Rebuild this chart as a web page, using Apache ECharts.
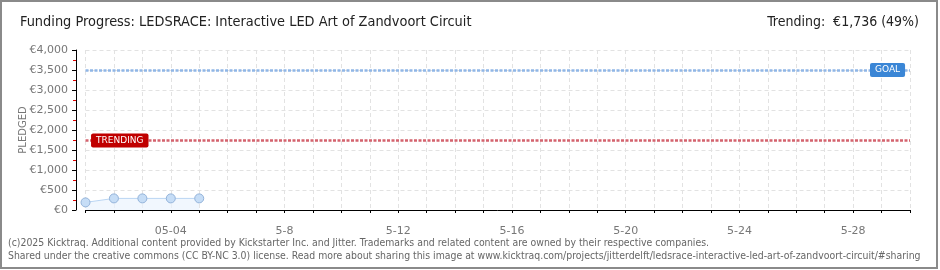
<!DOCTYPE html>
<html>
<head>
<meta charset="utf-8">
<script src="https://cdn.jsdelivr.net/npm/echarts@6/dist/echarts.min.js"></script>
<style>
  html, body { margin: 0; padding: 0; background: #fff; }
  #chart { width: 940px; height: 270px; }
</style>
</head>
<body>
<div id="chart"></div>
<script>
// days of the campaign shown on the x axis
var days = ['05-01', '05-02', '05-03', '05-04', '05-05', '05-06', '05-07', '05-08', '05-09', '05-10',
  '05-11', '05-12', '05-13', '05-14', '05-15', '05-16', '05-17', '05-18', '05-19', '05-20',
  '05-21', '05-22', '05-23', '05-24', '05-25', '05-26', '05-27', '05-28', '05-29', '05-30']
var tickLabels = ['', '', '', '05-04', '', '', '', '5-8', '', '',
  '', '5-12', '', '', '', '5-16', '', '', '', '5-20',
  '', '', '', '5-24', '', '', '', '5-28', '', '']
// pledged amount per day (EUR)
var pledged = [190, 290, 290, 290, 290]
var goal = 3500
var trending = 1736
var titleText = 'Funding Progress: LEDSRACE: Interactive LED Art of Zandvoort Circuit'
var trendText = 'Trending:  \u20ac1,736 (49%)'
var footer1 = '(c)2025 Kicktraq. Additional content provided by Kickstarter Inc. and Jitter. Trademarks and related content are owned by their respective companies.'
var footer2 = 'Shared under the creative commons (CC BY-NC 3.0) license. Read more about sharing this image at www.kicktraq.com/projects/jitterdelft/ledsrace-interactive-led-art-of-zandvoort-circuit/#sharing'

var chart = echarts.init(document.getElementById('chart'))

var narrow = '"Liberation Sans Narrow", "DejaVu Sans Condensed", sans-serif'

chart.setOption({
  animation: false,
  backgroundColor: '#fff',
  grid: {
    left: 85.5,
    right: 30,
    top: 50,
    bottom: 60
  },
  graphic: [
    {
      type: 'rect',
      shape: { x: 1, y: 1, width: 936, height: 267 },
      style: { fill: 'none', stroke: '#8a8a8a', lineWidth: 2 },
      silent: true
    },
    {
      type: 'text',
      left: 20,
      top: 15,
      style: { text: titleText, font: '14.4px ' + narrow, fill: '#222' }
    },
    {
      type: 'text',
      right: 21,
      top: 15,
      style: { text: trendText, font: '14px ' + narrow, fill: '#222' }
    },
    {
      type: 'text',
      left: 8,
      top: 238,
      style: { text: footer1, font: '10.4px ' + narrow, fill: '#666' }
    },
    {
      type: 'text',
      left: 8,
      top: 251,
      style: { text: footer2, font: '10.4px ' + narrow, fill: '#666' }
    }
  ],
  xAxis: {
    type: 'category',
    data: days,
    boundaryGap: false,
    offset: 10,
    axisLine: { lineStyle: { color: '#000', width: 1 } },
    axisTick: { show: true, interval: 0, length: 3, lineStyle: { color: '#000' } },
    axisLabel: {
      interval: 0,
      margin: 6,
      color: '#777',
      fontSize: 11,
      fontFamily: 'DejaVu Sans',
      formatter: function(v, i) {
        return tickLabels[i]
      }
    },
    splitLine: {
      show: true,
      interval: 0,
      lineStyle: { color: '#e2e2e2', type: [4, 3] }
    }
  },
  yAxis: {
    type: 'value',
    min: 0,
    max: 4000,
    interval: 500,
    offset: 9.5,
    name: 'PLEDGED',
    nameLocation: 'middle',
    nameGap: 48,
    nameMoveOverlap: false,
    nameTextStyle: { color: '#777', fontSize: 10, fontFamily: 'DejaVu Sans' },
    axisLine: { show: true, lineStyle: { color: '#000', width: 1 } },
    axisTick: { show: true, length: 4, lineStyle: { color: '#000' } },
    minorTick: { show: true, splitNumber: 2, length: 3, lineStyle: { color: '#e00000' } },
    axisLabel: {
      margin: 8,
      color: '#777',
      fontSize: 11,
      fontFamily: 'DejaVu Sans',
      formatter: function(v) {
        return '\u20ac' + v.toLocaleString('en-US')
      }
    },
    splitLine: {
      show: true,
      lineStyle: { color: '#e2e2e2', type: [4, 3] }
    }
  },
  series: [{
    name: 'Pledged',
    type: 'line',
    data: pledged,
    symbol: 'circle',
    symbolSize: 9,
    lineStyle: { color: '#b9d5f3', width: 1 },
    itemStyle: { color: '#c6ddf6', borderColor: '#93b3da', borderWidth: 1 },
    areaStyle: { color: '#ebf4fd' },
    markLine: {
      silent: true,
      symbol: 'none',
      data: [
        {
          yAxis: goal,
          lineStyle: { color: '#90b6e6', width: 2.5, type: [3, 1.5] },
          label: {
            position: 'end',
            distance: -40,
            formatter: 'GOAL',
            color: '#fff',
            fontSize: 9,
            fontFamily: 'DejaVu Sans',
            backgroundColor: '#3a86d6',
            borderRadius: 2,
            padding: [3, 5, 2, 5]
          }
        },
        {
          yAxis: trending,
          lineStyle: { color: '#d4636e', width: 2.5, type: [3, 1.5] },
          label: {
            position: 'start',
            distance: -63,
            formatter: 'TRENDING',
            color: '#fff',
            fontSize: 9,
            fontFamily: 'DejaVu Sans',
            backgroundColor: '#c00000',
            borderRadius: 2,
            padding: [3, 5, 2, 5]
          }
        }
      ]
    }
  }]
})
</script>
</body>
</html>
